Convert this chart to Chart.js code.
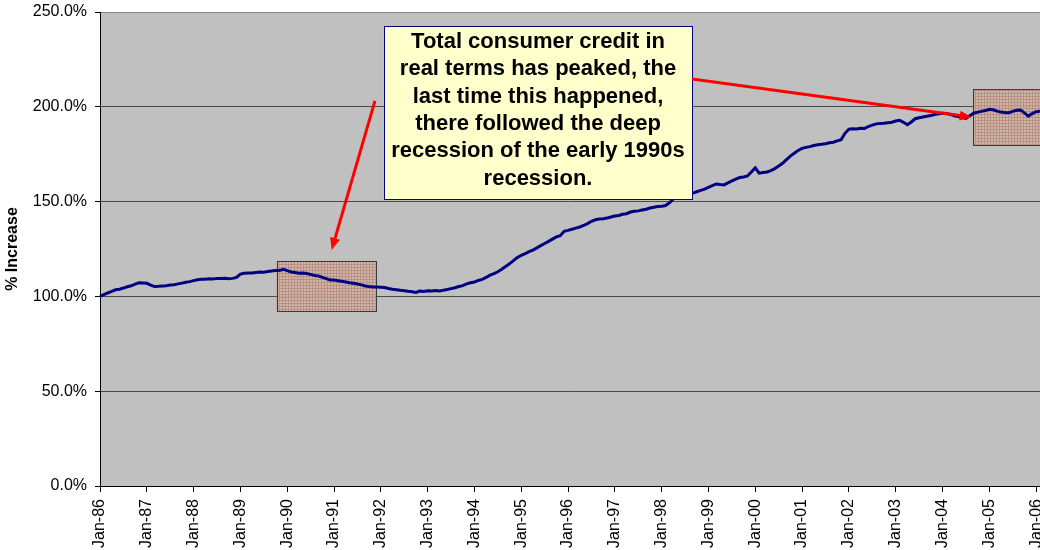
<!DOCTYPE html>
<html>
<head>
<meta charset="utf-8">
<script src="https://cdn.jsdelivr.net/npm/chart.js@4.4.1/dist/chart.umd.min.js"></script>
<style>
html,body{margin:0;padding:0;background:#fff;overflow:hidden;}
#wrap{position:absolute;left:0;top:0;width:1040px;height:550px;}
</style>
</head>
<body>
<div id="wrap"><canvas id="c" width="1040" height="550"></canvas></div>
<script>
// ---- categories ----
const monthNames = ['Jan','Feb','Mar','Apr','May','Jun','Jul','Aug','Sep','Oct','Nov','Dec'];
const years = ['86','87','88','89','90','91','92','93','94','95','96','97','98','99','00','01','02','03','04','05','06'];

// ---- series values (% increase, index Jan-86 = 100) ----
const v1986 = [100.0,100.9,101.8,102.6,103.5,103.8,104.4,105.1,105.6,106.5,107.2,107.1];
const v1987 = [106.9,106.0,105.2,105.3,105.5,105.6,106.0,106.2,106.6,107.0,107.5,107.8];
const v1988 = [108.3,108.8,109.0,109.1,109.3,109.2,109.5,109.4,109.6,109.3,109.5,110.0];
const v1989 = [111.8,112.2,112.4,112.3,112.6,112.9,112.8,113.1,113.4,113.6,113.7,114.3];
const v1990 = [113.6,112.9,112.6,112.2,112.3,112.1,111.6,111.0,110.8,110.0,109.4,108.7];
const v1991 = [108.6,108.3,108.0,107.6,107.2,106.9,106.5,106.1,105.5,105.2,105.0,104.9];
const v1992 = [104.8,104.7,104.2,103.8,103.5,103.2,103.0,102.7,102.5,102.1,102.8,102.6];
const v1993 = [103.0,102.8,103.1,102.9,103.2,103.6,104.1,104.6,105.2,105.7,106.6,107.2];
const v1994 = [107.6,108.4,109.0,110.0,111.2,112.0,113.0,114.3,115.8,117.2,118.9,120.5];
const v1995 = [121.6,122.5,123.6,124.4,125.6,126.8,127.9,129.0,130.2,131.4,132.0,134.3];
const v1996 = [134.8,135.4,136.0,136.6,137.4,138.4,139.6,140.4,140.8,141.0,141.3,141.9];
const v1997 = [142.4,142.7,143.3,143.6,144.5,144.9,145.1,145.6,146.0,146.6,147.0,147.4];
const v1998 = [147.6,147.9,149.4,151.4,152.3,152.9,153.7,154.1,154.5,155.2,155.9,156.6];
const v1999 = [157.5,158.4,159.3,159.0,158.8,159.9,160.9,161.9,162.7,163.0,163.5,165.6];
const v2000 = [167.8,165.0,165.3,165.6,166.3,167.4,168.8,170.2,172.1,174.0,175.5,177.0];
const v2001 = [178.1,178.6,179.0,179.6,180.0,180.2,180.5,181.0,181.3,182.0,182.6,186.0];
const v2002 = [188.2,188.4,188.3,188.7,188.6,189.6,190.3,191.0,191.2,191.3,191.6,191.9];
const v2003 = [192.5,192.9,191.8,190.5,192.0,193.7,194.2,194.6,195.0,195.4,195.9,196.3];
const v2004 = [196.6,196.5,196.0,195.3,194.8,194.3,193.9,195.3,196.6,197.2,197.6,198.0];
const v2005 = [198.7,198.4,197.7,197.2,197.0,196.9,197.6,198.2,198.3,196.8,195.1,196.4];
const v2006 = [197.4,197.6];

const yTicks = [0,50,100,150,200,250];
const yTitle = '% Increase';
const noteLines = ['Total consumer credit in','real terms has peaked, the','last time this happened,','there followed the deep','recession of the early 1990s','recession.'];

// annotation anchors in data units: [monthIndex, value]
const box1 = {x0:45.3, x1:70.7, y0:118.8, y1:92.3};
const box2 = {x0:223.8, x1:250, y0:209.2, y1:179.5};
const noteBox = {x0:72.8, x1:151.8, y0:242.6, y1:151.2};
const arrow1 = {from:[70.5,203.1], to:[59.4,124.5]};
const arrow2 = {from:[151.8,214.7], to:[223.5,194.5]};

const values = [].concat(v1986,v1987,v1988,v1989,v1990,v1991,v1992,v1993,v1994,v1995,v1996,v1997,v1998,v1999,v2000,v2001,v2002,v2003,v2004,v2005,v2006);
const categories = [];
years.forEach(y => monthNames.forEach(m => categories.push(m + '-' + y)));
categories.length = values.length;

const FONT = "'Liberation Sans', Arial, sans-serif";

let hatch = null;
function getHatch(ctx){
  if (hatch) return hatch;
  const p = document.createElement('canvas');
  p.width = 3; p.height = 3;
  const g = p.getContext('2d');
  g.fillStyle = '#d0b6a9';
  g.fillRect(0,0,3,3);
  g.fillStyle = '#b98d7c';
  g.fillRect(0,0,3,1);
  g.fillRect(0,0,1,3);
  hatch = ctx.createPattern(p,'repeat');
  return hatch;
}

const bgPlugin = {
  id:'bg',
  beforeDraw(chart){
    const {ctx, chartArea:a} = chart;
    ctx.save();
    ctx.fillStyle = '#c0c0c0';
    ctx.fillRect(a.left, a.top, a.right - a.left, a.bottom - a.top);
    ctx.restore();
  },
  beforeDatasetsDraw(chart){
    const {ctx, scales:{x,y}} = chart;
    ctx.save();
    [box1, box2].forEach(b => {
      const l = x.getPixelForValue(b.x0), r = x.getPixelForValue(b.x1);
      const t = y.getPixelForValue(b.y0), bt = y.getPixelForValue(b.y1);
      ctx.globalAlpha = 0.92;
      ctx.fillStyle = getHatch(ctx);
      ctx.fillRect(l, t, r - l, bt - t);
      ctx.globalAlpha = 1;
      ctx.strokeStyle = '#3a3a3a';
      ctx.lineWidth = 1;
      ctx.strokeRect(Math.round(l)+0.5, Math.round(t)+0.5, Math.round(r-l), Math.round(bt-t));
    });
    ctx.restore();
  },
  afterDatasetsDraw(chart){
    const {ctx, scales:{x,y}} = chart;
    ctx.save();
    // note box
    const l = x.getPixelForValue(noteBox.x0), r = x.getPixelForValue(noteBox.x1);
    const t = y.getPixelForValue(noteBox.y0), b = y.getPixelForValue(noteBox.y1);
    ctx.fillStyle = '#ffffcc';
    ctx.fillRect(l, t, r - l, b - t);
    ctx.strokeStyle = '#000080';
    ctx.lineWidth = 1;
    ctx.strokeRect(Math.round(l)+0.5, Math.round(t)+0.5, Math.round(r-l), Math.round(b-t));
    ctx.fillStyle = '#000';
    ctx.font = 'bold 22px ' + FONT;
    ctx.textAlign = 'center';
    ctx.textBaseline = 'middle';
    const cx = (l + r) / 2;
    noteLines.forEach((ln, i) => ctx.fillText(ln, cx, t + 16 + i * 27.3));
    // arrows
    [arrow1, arrow2].forEach(a => {
      const x0 = x.getPixelForValue(a.from[0]), y0 = y.getPixelForValue(a.from[1]);
      const x1 = x.getPixelForValue(a.to[0]), y1 = y.getPixelForValue(a.to[1]);
      const ang = Math.atan2(y1 - y0, x1 - x0);
      const hl = 12, hw = 5;
      const bx = x1 - hl * Math.cos(ang), by = y1 - hl * Math.sin(ang);
      ctx.strokeStyle = '#ff0000';
      ctx.fillStyle = '#ff0000';
      ctx.lineWidth = 3;
      ctx.beginPath();
      ctx.moveTo(x0, y0);
      ctx.lineTo(bx, by);
      ctx.stroke();
      ctx.beginPath();
      ctx.moveTo(x1, y1);
      ctx.lineTo(bx + hw * Math.sin(ang), by - hw * Math.cos(ang));
      ctx.lineTo(bx - hw * Math.sin(ang), by + hw * Math.cos(ang));
      ctx.closePath();
      ctx.fill();
    });
    ctx.restore();
  }
};

new Chart(document.getElementById('c'), {
  type:'line',
  data:{
    labels:categories,
    datasets:[{
      data:values,
      borderColor:'#000080',
      borderWidth:3,
      pointRadius:0,
      tension:0,
      fill:false
    }]
  },
  options:{
    responsive:false,
    animation:false,
    devicePixelRatio:1,
    layout:{padding:{top:12,left:0,right:0,bottom:0}},
    plugins:{legend:{display:false},tooltip:{enabled:false}},
    scales:{
      x:{
        type:'category',
        offset:false,
        border:{display:true,color:'#000',width:1},
        grid:{
          drawOnChartArea:false,
          drawTicks:true,
          tickLength:6,
          color:ctx => (ctx.index % 12 === 0 ? '#000' : 'rgba(0,0,0,0)'),
          tickColor:ctx => (ctx.index % 12 === 0 ? '#000' : 'rgba(0,0,0,0)')
        },
        ticks:{
          autoSkip:false,
          maxRotation:90,
          minRotation:90,
          padding:7,
          color:'#000',
          font:{family:FONT,size:16},
          callback:(val, idx) => (idx % 12 === 0 ? categories[idx] : '')
        },
        afterFit(scale){ scale.height = 64; scale.paddingLeft = 0; scale.paddingRight = 0; }
      },
      y:{
        min:0,max:250,
        border:{display:true,color:'#000',width:1},
        afterBuildTicks(scale){ scale.ticks = yTicks.map(v => ({value:v})); },
        grid:{
          drawTicks:true,
          tickLength:5,
          color:ctx => (ctx.tick && ctx.tick.value === 250 ? '#858585' : '#4a4a4a'),
          tickColor:'#000',
          lineWidth:1
        },
        ticks:{
          padding:8,
          color:'#000',
          font:{family:FONT,size:16},
          callback:v => v.toFixed(1) + '%'
        },
        title:{
          display:true,
          text:yTitle,
          color:'#000',
          font:{family:FONT,size:16,weight:'bold'},
          padding:{top:3,bottom:0}
        },
        afterFit(scale){ scale.width = 100; scale.paddingTop = 0; scale.paddingBottom = 0; }
      }
    }
  },
  plugins:[bgPlugin]
});
</script>
</body>
</html>
